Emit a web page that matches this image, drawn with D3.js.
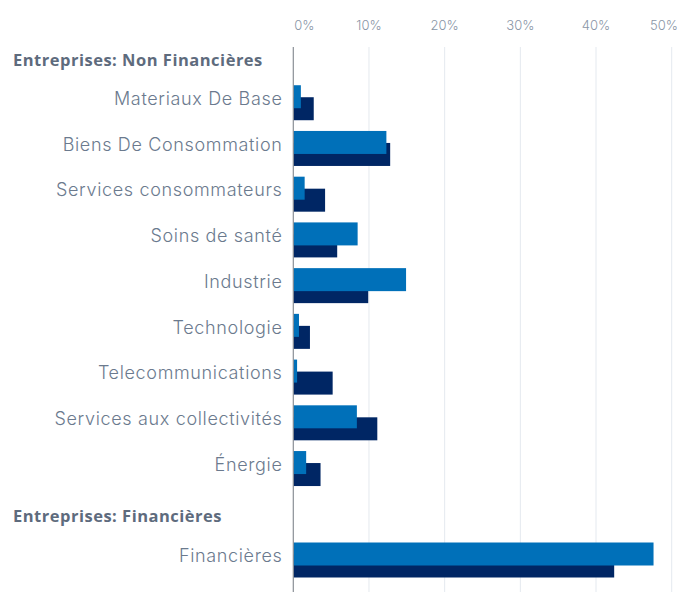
<!DOCTYPE html>
<html><head><meta charset="utf-8">
<script src="https://cdn.jsdelivr.net/npm/d3@7"></script>
<style>
html,body{margin:0;padding:0;background:#fff;}
svg{display:block;}
</style></head>
<body>
<svg id="chart" width="680" height="592"></svg>
<script>
const groups = ["Entreprises: Non Financières", "Entreprises: Financières"];
const categoriesNonFin = ["Materiaux De Base","Biens De Consommation","Services consommateurs","Soins de santé","Industrie","Technologie","Telecommunications","Services aux collectivités","Énergie"];
const categoriesFin = ["Financières"];
const seriesA = [1.0, 12.3, 1.5, 8.5, 14.9, 0.75, 0.5, 8.4, 1.7, 47.6];   // light blue
const seriesB = [2.7, 12.8, 4.2, 5.8, 9.9, 2.2, 5.2, 11.1, 3.6, 42.4];   // dark navy
const tickValues = [0, 10, 20, 30, 40, 50];
const tickLabels = ["0%", "10%", "20%", "30%", "40%", "50%"];

const svg = d3.select("#chart");
const W = 680, H = 592;
const x = d3.scaleLinear().domain([0, 50]).range([293.3, 671.7]);

const rows = [{type:"h", label:groups[0]}]
  .concat(categoriesNonFin.map(c => ({type:"c", label:c})))
  .concat([{type:"h", label:groups[1]}])
  .concat(categoriesFin.map(c => ({type:"c", label:c})));
const cats = categoriesNonFin.concat(categoriesFin);
const y = d3.scalePoint().domain(d3.range(rows.length)).range([57, 560]);
const catRow = {};
rows.forEach((r, i) => { if (r.type === "c") catRow[r.label] = i; });

const labelFont = "Inter, sans-serif";
const headFont = "'Open Sans', sans-serif";

// grid
svg.append("g").selectAll("line").data(tickValues.slice(1)).join("line")
  .attr("x1", d => x(d)).attr("x2", d => x(d))
  .attr("y1", 47).attr("y2", H)
  .attr("stroke", "#e4e9ef").attr("stroke-width", 1);

// tick labels
const tl = svg.append("g").selectAll("text").data(tickValues).join("text")
  .attr("x", d => x(d)).attr("y", 25)
  .attr("dy", "0.35em")
  .attr("text-anchor", "middle")
  .attr("font-family", labelFont)
  .attr("font-weight", 300)
  .attr("font-size", 13)
  .attr("fill", "#8995a6")
  .text((d, i) => tickLabels[i]);
tl.each(function(d) {
  const w = this.getComputedTextLength();
  let cx = x(d);
  cx = Math.max(cx, x(0) + w / 2 + 1);
  cx = Math.min(cx, 678 - w / 2);
  d3.select(this).attr("x", cx);
});

// bars
const bars = svg.append("g");
bars.selectAll("rect.b").data(cats).join("rect").attr("class", "b")
  .attr("x", x(0))
  .attr("y", d => y(catRow[d]) - 5.5)
  .attr("width", (d, i) => x(seriesB[i]) - x(0))
  .attr("height", 23)
  .attr("fill", "#002664");
bars.selectAll("rect.a").data(cats).join("rect").attr("class", "a")
  .attr("x", x(0))
  .attr("y", d => y(catRow[d]) - 17.5)
  .attr("width", (d, i) => x(seriesA[i]) - x(0))
  .attr("height", 23)
  .attr("fill", "#0070b9");

// zero line
svg.append("line")
  .attr("x1", x(0)).attr("x2", x(0))
  .attr("y1", 47).attr("y2", H)
  .attr("stroke", "#8a8f96").attr("stroke-width", 1.2);

// labels
const lg = svg.append("g");
rows.forEach((r, i) => {
  if (r.type === "h") {
    lg.append("text")
      .attr("x", 13).attr("y", y(i) + (i === 0 ? 3.5 : 2))
      .attr("dy", "0.35em")
      .attr("font-family", headFont)
      .attr("font-weight", 700)
      .attr("font-size", 16.5)
      .attr("letter-spacing", 0.5)
      .attr("fill", "#5e6b7d")
      .text(r.label);
  } else {
    lg.append("text")
      .attr("x", 282.5).attr("y", y(i) - 4)
      .attr("dy", "0.35em")
      .attr("text-anchor", "end")
      .attr("font-family", labelFont)
      .attr("font-weight", 300)
      .attr("font-size", 18)
      .attr("letter-spacing", 0.65)
      .attr("fill", "#6b7a8e")
      .text(r.label);
  }
});
</script>
</body></html>
